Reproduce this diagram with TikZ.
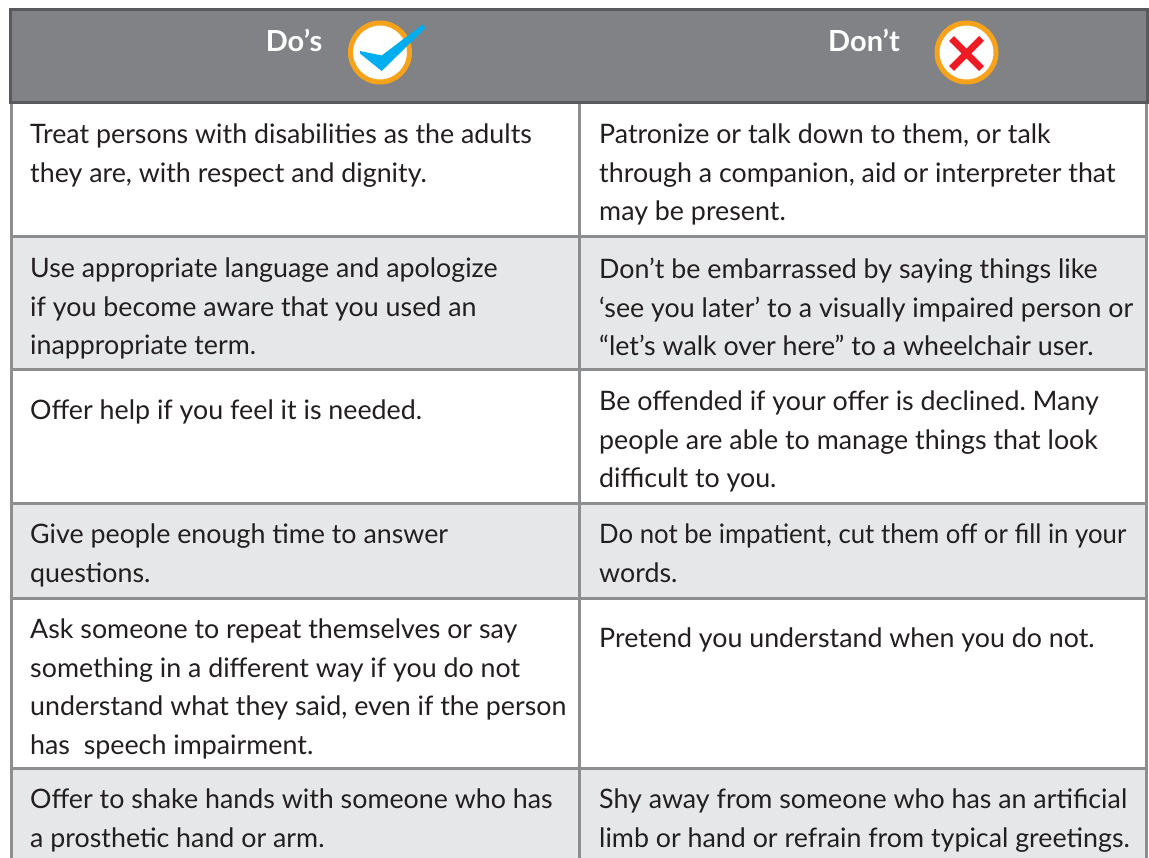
\documentclass[tikz,border=0pt]{standalone}
\usepackage{fontspec}
\setmainfont{Lato}
\usetikzlibrary{positioning}
\frenchspacing
\definecolor{headgray}{HTML}{808285}
\definecolor{headline}{HTML}{58595B}
\definecolor{gridgray}{HTML}{8D8E90}
\definecolor{rowgray}{HTML}{E6E7E8}
\definecolor{textblack}{HTML}{231F20}
\definecolor{tickblue}{HTML}{00AEEF}
\definecolor{ringorange}{HTML}{F7A21B}
\definecolor{crossred}{HTML}{ED1C24}
\tikzstyle{cell}=[anchor=north west,inner sep=0pt,align=left,text=textblack,font=\fontsize{26.8}{38.5}\selectfont,execute at begin node={\rule{0pt}{28pt}}]
\tikzstyle{header}=[anchor=base,inner sep=0pt,text=white,font=\fontsize{29}{30}\selectfont\bfseries]
\tikzstyle{badge}=[circle,fill=white,draw=ringorange,line width=5pt,minimum size=59pt,inner sep=0pt]
\tikzstyle{gridline}=[draw=gridgray,line width=3pt]

\begin{document}
\begin{tikzpicture}[x=1pt,y=-1pt]
    \useasboundingbox (0,0) rectangle (1149,858);
    % First we shade the rows
    \foreach \top/\bot/\shade in {103/237/white, 237/370/rowgray, 370/503/white, 503/598/rowgray, 598/768/white, 768/880/rowgray}
        \fill[\shade] (10,\top) rectangle (1147,\bot);

    % Grid lines between the cells
    \foreach \y in {237, 370, 503, 598, 768}
        \path[gridline] (10,\y) -- (1147,\y);
    \foreach \x in {11, 579, 1146}
        \path[gridline] (\x,103) -- (\x,880);

    % Header bar
    \filldraw[fill=headgray, draw=headline, line width=3pt] (10,9.5) rectangle (1147,102.5);
    \node[header] (dos) at (294,51.5) {Do’s};
    \node[header] (donts) at (864,51.5) {Don’t};
    \node[badge] (okbadge) at (380,52.5) {};
    \node[badge] (nobadge) at (966.5,52.5) {};
    \fill[tickblue, shift={(okbadge)}] (-20,-1.5) -- (1.7,3) -- (43.3,-28.5) -- (45,-24) -- (1.7,18.5) -- (-20,1) -- cycle;
    \draw[crossred, line width=7pt, shift={(nobadge)}] (-15,-14) -- (15,16) (15,-14) -- (-15,16);

    % Then the texts of the two columns
    \node[cell] (do1) at (30,124) {Treat persons with disabilities as the adults\\they are, with respect and dignity.};
    \node[cell] (dont1) at (599,124) {Patronize or talk down to them, or talk\\through a companion, aid or interpreter that\\may be present.};
    \node[cell] (do2) at (30,258) {Use appropriate language and apologize\\if you become aware that you used an\\inappropriate term.};
    \node[cell] (dont2) at (599,258) {Don’t be embarrassed by saying things like\\‘see you later’ to a visually impaired person or\\“let’s walk over here” to a wheelchair user.};
    \node[cell] (do3) at (30,391) {Offer help if you feel it is needed.};
    \node[cell] (dont3) at (599,391) {Be offended if your offer is declined. Many\\people are able to manage things that look\\difficult to you.};
    \node[cell] (do4) at (30,524) {Give people enough time to answer\\questions.};
    \node[cell] (dont4) at (599,524) {\scalebox{0.96}[1]{Do not be impatient, cut them off or fill in your}\\words.};
    \node[cell] (do5) at (30,619) {Ask someone to repeat themselves or say\\something in a different way if you do not\\understand what they said, even if the person\\has\ \ speech impairment.};
    \node[cell] (dont5) at (599,619) {Pretend you understand when you do not.};
    \node[cell] (do6) at (30,789) {Offer to shake hands with someone who has\\a prosthetic hand or arm.};
    \node[cell] (dont6) at (599,789) {Shy away from someone who has an artificial\\limb or hand or refrain from typical greetings.};
\end{tikzpicture}
\end{document}
